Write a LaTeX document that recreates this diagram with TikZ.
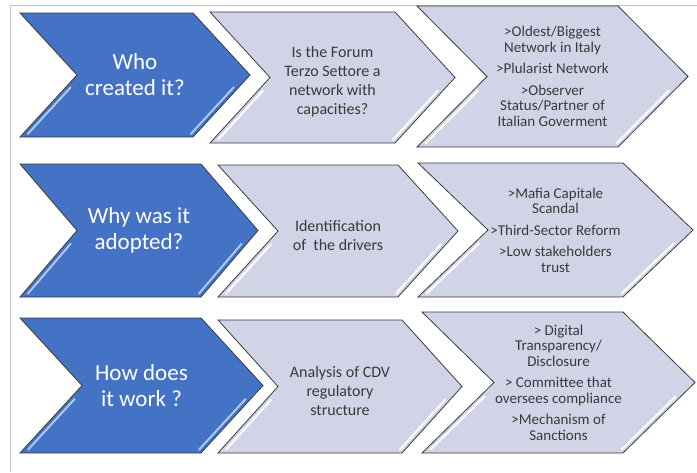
\documentclass[tikz,border=0pt]{standalone}
\usepackage{fontspec}
\setmainfont{Carlito}
\definecolor{askblue}{HTML}{4472C4}
\definecolor{steplav}{HTML}{D0D4E6}
\definecolor{edgegrey}{HTML}{3C3C3C}
\definecolor{askglow}{HTML}{A9CBEB}
\definecolor{framegrey}{HTML}{C4C4C4}
\definecolor{texgrey}{HTML}{3A3A3A}

% chevron: name, x1, y1, x2, y2, slant, style, text
\newcommand{\chevron}[8]{%
  \path[#7] (#2,#3) -- (#4-#6,#3) -- (#4,{(#3+#5)/2}) -- (#4-#6,#5)
    -- (#2,#5) -- (#2+#6,{(#3+#5)/2}) -- cycle;
  \draw[#7 glow] ({#4-0.2*#6-5},{(#3+#5)/2+0.2*(#5-#3)/2})
    -- ({#4-0.95*#6-5},{(#3+#5)/2+0.95*(#5-#3)/2});
  \draw[#7 glow] ({#2+0.8*#6+5},{(#3+#5)/2+0.2*(#5-#3)/2})
    -- ({#2+0.05*#6+5},{(#3+#5)/2+0.95*(#5-#3)/2});
  \node[#7 text] (#1) at ({(#2+#4)/2},{(#3+#5)/2}) {#8};
}

\begin{document}
\begin{tikzpicture}[x=1pt, y=-1pt,
  askbox/.style={fill=askblue, draw=edgegrey, line width=0.8pt},
  askbox glow/.style={draw=askglow, line width=2pt, line cap=round},
  askbox text/.style={text=white, font=\fontsize{23}{26}\selectfont, align=center},
  stepbox/.style={fill=steplav, draw=edgegrey, line width=0.8pt},
  stepbox glow/.style={draw=white, line width=2pt, line cap=round},
  stepbox text/.style={text=texgrey, font=\fontsize{16}{19}\selectfont, align=center, yshift=-4pt},
  findbox/.style={fill=steplav, draw=edgegrey, line width=0.8pt},
  findbox glow/.style={draw=white, line width=2pt, line cap=round},
  findbox text/.style={text=texgrey, font=\fontsize{15}{15.5}\selectfont, align=center}]

\useasboundingbox (0,0) rectangle (697,472);
\draw[framegrey, line width=0.8pt] (697,5) -- (10,5) -- (10,472);

% row 1
\chevron{who}{20}{13}{250}{137}{57}{askbox}{Who\\created it?}
\chevron{forum}{210}{12}{455}{143}{60}{stepbox}{Is the Forum\\Terzo Settore a\\network with\\capacities?}
\chevron{network}{417}{6}{688}{147}{70}{findbox}{>Oldest/Biggest\\Network in Italy\\[6pt]>Plularist Network\\[6pt]>Observer\\Status/Partner of\\Italian Goverment}

% row 2
\chevron{why}{20}{164}{258}{297}{57}{askbox}{Why was it\\adopted?}
\chevron{drivers}{218}{165}{458}{297}{60}{stepbox}{Identification\\of\ \ the drivers}
\chevron{causes}{418}{163}{693}{297}{70}{findbox}{>Mafia Capitale\\Scandal\\[6pt]>Third-Sector Reform\\[6pt]>Low stakeholders\\trust}

% row 3
\chevron{how}{20}{318}{263}{453}{62}{askbox}{How does\\it work ?}
\chevron{cdv}{218}{320}{462}{453}{60}{stepbox}{Analysis of CDV\\regulatory\\structure}
\chevron{tools}{422}{312}{695}{453}{72}{findbox}{> Digital\\Transparency/\\Disclosure\\[6pt]> Committee that\\oversees compliance\\[6pt]>Mechanism of\\Sanctions}

\end{tikzpicture}
\end{document}
